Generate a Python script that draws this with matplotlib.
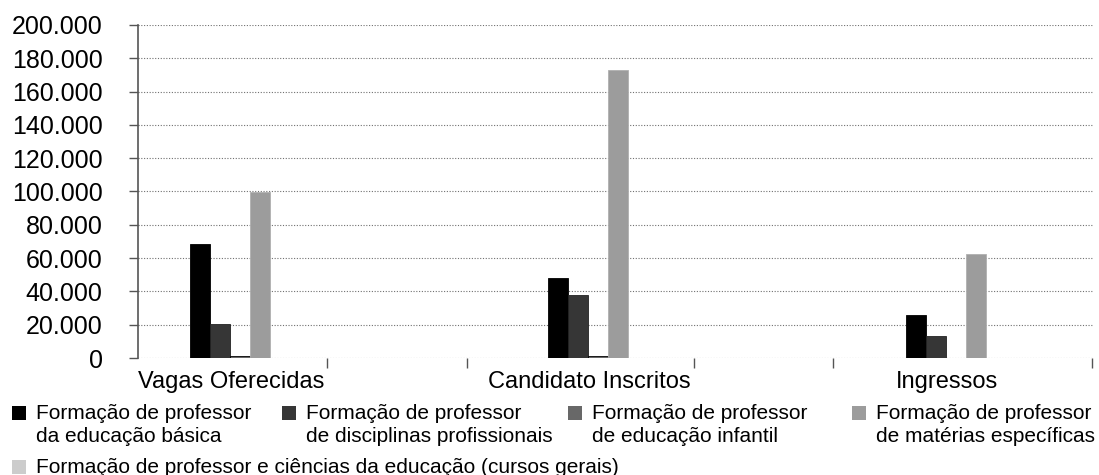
import numpy as np
import matplotlib.pyplot as plt
from matplotlib.patches import Rectangle
from matplotlib.ticker import FuncFormatter, FixedLocator

plt.rcParams['font.family'] = ['Liberation Sans', 'DejaVu Sans']

# Chart data.
categories = ['Vagas Oferecidas', 'Candidato Inscritos', 'Ingressos']
series_names = [
    'Formação de professor\nda educação básica',
    'Formação de professor\nde disciplinas profissionais',
    'Formação de professor\nde educação infantil',
    'Formação de professor\nde matérias específicas',
    'Formação de professor e ciências da educação (cursos gerais)',
]
basica = [68200, 47900, 25600]
profissionais = [20600, 38000, 13200]
infantil = [1200, 1200, 0]
especificas = [99600, 173200, 62300]
gerais = [0, 0, 0]
colors = ['#000000', '#363636', '#686868', '#9c9c9c', '#cccccc']
edges = ['#000000', '#222222', '#000000', '#b0b0b0', '#cccccc']

FIGSIZE = (10.99, 4.75)
W = 0.056

# Manual legend placement (figure pixels): marker left, marker top.
LEG_X = [12, 282, 568, 852, 12]
LEG_Y = [406, 406, 406, 406, 460]


def thousands(v, pos):
    return '{:,.0f}'.format(v).replace(',', '.')


def main():
    fig = plt.figure(figsize=FIGSIZE, dpi=100)
    fw, fh = 1099, 475
    ax = fig.add_axes([0.1256, 0.2463, 0.869, 0.7011])

    x = np.arange(len(categories))
    for i, vals in enumerate([basica, profissionais, infantil, especificas, gerais]):
        ax.bar(x + (i - 2) * W, vals, W, color=colors[i], edgecolor=edges[i],
               linewidth=0.6, zorder=3)

    ax.set_xlim(-0.285, 2.383)
    ax.set_ylim(0, 200000)
    ax.set_yticks(np.arange(0, 200001, 20000))
    ax.yaxis.set_major_formatter(FuncFormatter(thousands))
    ax.grid(axis='y', color='#707070', linestyle=(0, (1, 1.5)), linewidth=0.8, zorder=0)
    ax.set_axisbelow(True)

    ax.set_xticks(x - 0.025)
    ax.set_xticklabels(categories)
    ax.xaxis.set_minor_locator(FixedLocator([0.243, 0.634, 1.268, 1.656, 2.38]))
    ax.tick_params(axis='x', which='major', length=0, labelsize=17, pad=9)
    ax.tick_params(axis='x', which='minor', length=7, color='#555555', width=1)
    ax.tick_params(axis='y', length=6.5, color='#555555', width=1, labelsize=18, pad=19)

    for s in ['top', 'right', 'bottom']:
        ax.spines[s].set_visible(False)
    ax.spines['left'].set_color('#555555')
    ax.spines['left'].set_linewidth(1.2)

    # Legend: square marker aligned with the first text line.
    for i, name in enumerate(series_names):
        mx, my = LEG_X[i], LEG_Y[i]
        fig.patches.append(Rectangle((mx / fw, 1 - (my + 14) / fh), 14 / fw, 14 / fh,
                                     transform=fig.transFigure, facecolor=colors[i],
                                     edgecolor='none'))
        fig.text((mx + 24) / fw, 1 - (my - 2) / fh, name, fontsize=15,
                 va='top', ha='left', linespacing=1.3)

    fig.savefig('out.png', dpi=100)


if __name__ == "__main__":
    main()
